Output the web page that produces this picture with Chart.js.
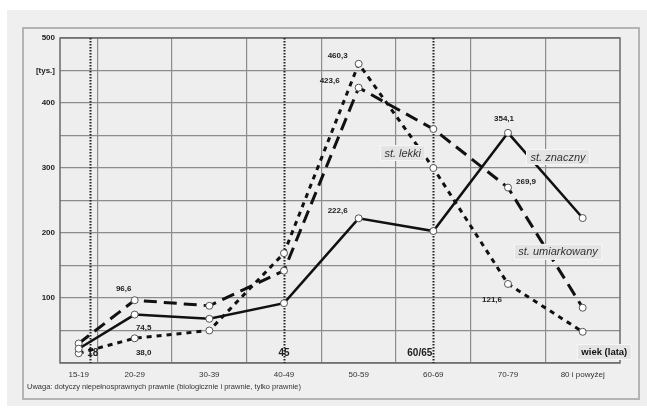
<!DOCTYPE html>
<html lang="pl">
<head>
<meta charset="utf-8">
<script src="https://cdn.jsdelivr.net/npm/chart.js@4.4.1/dist/chart.umd.min.js"></script>
<style>
  html, body { margin: 0; padding: 0; background: #ffffff; }
  #panel { position: absolute; left: 7px; top: 10px; width: 640px; height: 396px; background: #efefef; }
  #ramka { position: absolute; left: 22px; top: 27px; width: 614px; height: 369px; border: 2px solid #b4b4b4; box-sizing: content-box; }
  #wykres { position: absolute; left: 0; top: 0; }
  #uwaga { position: absolute; left: 27px; top: 382px; font: 7.5px "Liberation Sans", Arial, sans-serif; color: #333; white-space: nowrap; }
</style>
</head>
<body>
<div id="panel"></div>
<div id="ramka"></div>
<canvas id="wykres" width="647" height="414"></canvas>
<div id="uwaga">Uwaga: dotyczy niepełnosprawnych prawnie (biologicznie i prawnie, tylko prawnie)</div>
<script>
// Dane: grupy wieku i liczba niepełnosprawnych [tys.]
const kategorie = ['15-19', '20-29', '30-39', '40-49', '50-59', '60-69', '70-79', '80 i powyżej'];
const srodkiWieku = [17.5, 25, 35, 45, 55, 65, 75, 85];
const granicePrzedzialow = [20, 30, 40, 50, 60, 70, 80];
const stZnaczny = [22, 74.5, 68, 92, 222.6, 203, 354.1, 223];
const stUmiarkowany = [30, 96.6, 88, 142, 423.6, 360, 269.9, 85];
const stLekki = [15, 38.0, 50, 169, 460.3, 300, 121.6, 48];
const opisanePunkty = [1, 4, 6];
const liniePionowe = [19, 45, 65];
const etykietyLinii = ['18', '45', '60/65'];
const ticksY = [500, 450, 400, 300, 200, 100];
const etykietyY = ['500', '[tys.]', '400', '300', '200', '100'];

const FONT = '"Liberation Sans", Arial, sans-serif';

function punkty(wartosci) {
    return srodkiWieku.map((x, i) => ({ x: x, y: wartosci[i] }));
}

function liczbaPL(v) {
    return v.toFixed(1).replace('.', ',');
}

// przesunięcia etykiet wartości względem punktu (w px)
const przesuniecia = {
    0: [[9, 13], [-21, -8], [-4, -14]],
    1: [[-11, -11], [-29, -7], [18, -6]],
    2: [[9, 14], [-21, -8], [-16, 16]]
};

// napisy serii w ramkach (pozycje w jednostkach osi)
const napisySerii = [
    { tekst: 'st. lekki', x: 60.9, y: 323, italic: true },
    { tekst: 'st. znaczny', x: 81.7, y: 317, italic: true },
    { tekst: 'st. umiarkowany', x: 81.7, y: 171, italic: true },
    { tekst: 'wiek (lata)', x: 87.9, y: 17, italic: false }
];

const dodatki = {
    id: 'dodatki',
    beforeDraw(chart) {
        const { ctx, chartArea: a } = chart;
        ctx.save();
        ctx.fillStyle = '#eeeeee';
        ctx.fillRect(a.left, a.top, a.right - a.left, a.bottom - a.top);
        ctx.restore();
    },
    beforeDatasetsDraw(chart) {
        const { ctx, chartArea: a, scales } = chart;
        ctx.save();
        // ramka obszaru wykresu
        ctx.strokeStyle = '#6a6a6a';
        ctx.lineWidth = 1.5;
        ctx.strokeRect(a.left, a.top, a.right - a.left, a.bottom - a.top);
        // kropkowane linie progów wieku
        ctx.strokeStyle = '#222';
        ctx.lineWidth = 2;
        ctx.setLineDash([1.5, 1.5]);
        liniePionowe.forEach(v => {
            const x = Math.round(scales.x.getPixelForValue(v)) + 0.5;
            ctx.beginPath();
            ctx.moveTo(x, a.top);
            ctx.lineTo(x, a.bottom);
            ctx.stroke();
        });
        ctx.setLineDash([]);
        ctx.fillStyle = '#222';
        ctx.font = 'bold 10px ' + FONT;
        ctx.textBaseline = 'middle';
        liniePionowe.forEach((v, i) => {
            const x = scales.x.getPixelForValue(v);
            ctx.textAlign = i === 2 ? 'right' : 'center';
            ctx.fillText(etykietyLinii[i], i === 2 ? x - 1 : x + (i === 0 ? 3 : 0), a.bottom - 10);
        });
        ctx.restore();
    },
    afterDatasetsDraw(chart) {
        const { ctx, scales } = chart;
        ctx.save();
        // wartości przy wybranych punktach
        ctx.fillStyle = '#222';
        ctx.font = 'bold 8px ' + FONT;
        ctx.textAlign = 'center';
        ctx.textBaseline = 'middle';
        chart.data.datasets.forEach((ds, d) => {
            const meta = chart.getDatasetMeta(d);
            opisanePunkty.forEach((idx, k) => {
                const p = meta.data[idx];
                const off = przesuniecia[d][k];
                ctx.fillText(liczbaPL(ds.data[idx].y), p.x + off[0], p.y + off[1]);
            });
        });
        // napisy serii
        napisySerii.forEach(n => {
            const x = scales.x.getPixelForValue(n.x);
            const y = scales.y.getPixelForValue(n.y);
            ctx.font = n.italic ? 'italic 11px ' + FONT : 'bold 9.5px ' + FONT;
            const w = ctx.measureText(n.tekst).width + 8;
            const h = 15;
            ctx.fillStyle = '#e4e4e4';
            ctx.fillRect(x - w / 2, y - h / 2, w, h);
            ctx.strokeStyle = '#f6f6f6';
            ctx.lineWidth = 1;
            ctx.strokeRect(x - w / 2, y - h / 2, w, h);
            ctx.fillStyle = n.italic ? '#333' : '#111';
            ctx.fillText(n.tekst, x, y + 0.5);
        });
        ctx.restore();
    }
};

const wspolnePunkty = {
    pointRadius: 3.5,
    pointBackgroundColor: '#ffffff',
    pointBorderColor: '#555555',
    pointBorderWidth: 1,
    fill: false,
    tension: 0
};

const ctx = document.getElementById('wykres').getContext('2d');
new Chart(ctx, {
    type: 'line',
    data: {
        datasets: [
            Object.assign({ label: 'st. znaczny', data: punkty(stZnaczny), borderColor: '#111', borderWidth: 2.5 }, wspolnePunkty),
            Object.assign({ label: 'st. umiarkowany', data: punkty(stUmiarkowany), borderColor: '#111', borderWidth: 3, borderDash: [13, 7] }, wspolnePunkty),
            Object.assign({ label: 'st. lekki', data: punkty(stLekki), borderColor: '#111', borderWidth: 3, borderDash: [5, 5] }, wspolnePunkty)
        ]
    },
    options: {
        responsive: false,
        animation: false,
        layout: { padding: { left: 20, right: 27, top: 38, bottom: 31 } },
        plugins: {
            legend: { display: false },
            tooltip: { enabled: false }
        },
        scales: {
            x: {
                type: 'linear',
                min: 15,
                max: 90,
                afterBuildTicks(scale) {
                    const v = srodkiWieku.concat(granicePrzedzialow).sort((a, b) => a - b);
                    scale.ticks = v.map(t => ({ value: t }));
                },
                afterFit(scale) { scale.height = 20; },
                border: { display: false },
                grid: {
                    drawTicks: false,
                    color: c => (c.tick && granicePrzedzialow.includes(c.tick.value)) ? '#8c8c8c' : 'rgba(0,0,0,0)',
                    lineWidth: 1.2
                },
                ticks: {
                    padding: 7,
                    autoSkip: false,
                    maxRotation: 0,
                    color: '#333',
                    font: { family: FONT, size: 8 },
                    callback: v => {
                        const i = srodkiWieku.indexOf(v);
                        return i >= 0 ? kategorie[i] : '';
                    }
                }
            },
            y: {
                min: 0,
                max: 500,
                afterFit(scale) { scale.width = 40; },
                border: { display: false },
                grid: { drawTicks: false, color: '#8c8c8c', lineWidth: 1.2 },
                ticks: {
                    stepSize: 50,
                    padding: 5,
                    color: '#222',
                    font: { family: FONT, size: 8, weight: 'bold' },
                    callback: v => {
                        const i = ticksY.indexOf(v);
                        return i >= 0 ? etykietyY[i] : '';
                    }
                }
            }
        }
    },
    plugins: [dodatki]
});
</script>
</body>
</html>
